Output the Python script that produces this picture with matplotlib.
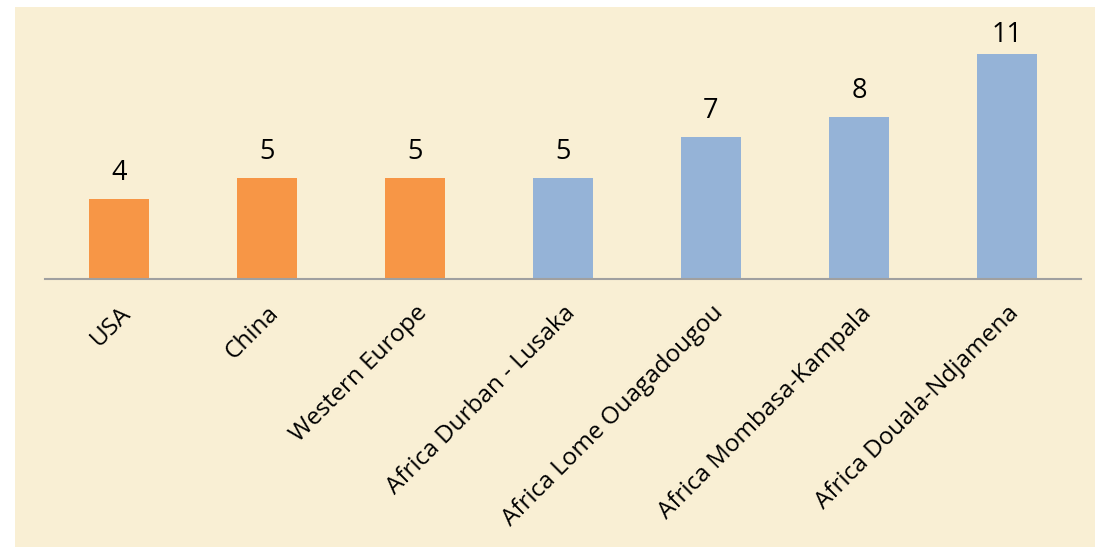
import matplotlib
matplotlib.use("Agg")
import matplotlib.pyplot as plt
from matplotlib.patches import Rectangle

categories = ["USA", "China", "Western Europe", "Africa Durban - Lusaka",
              "Africa Lome Ouagadougou", "Africa Mombasa-Kampala", "Africa Douala-Ndjamena"]
values = [3.9, 4.93, 4.93, 4.93, 6.93, 7.9, 11.0]
labels = ["4", "5", "5", "5", "7", "8", "11"]
groups = ["other", "other", "other", "africa", "africa", "africa", "africa"]

colors = {"other": "#F79646", "africa": "#95B3D7"}
bg = "#F9EFD4"

plt.rcParams['font.family'] = ['Open Sans', 'DejaVu Sans']

fig = plt.figure(figsize=(10.95, 5.47), dpi=100)
fig.patch.set_facecolor("white")
fig.patches.append(Rectangle((15/1095, 0), 1 - 15/1095, 1 - 7/547,
                             transform=fig.transFigure, facecolor=bg,
                             edgecolor="none", zorder=-5))

ax = fig.add_axes([45/1095, 1 - 279/547, 1036/1095, (279 - 15)/547])
ax.set_zorder(2)
ax.set_facecolor("none")
x = list(range(len(categories)))
ax.bar(x, values, width=0.4, color=[colors[g] for g in groups], zorder=2)
ax.set_xlim(-0.5, len(categories) - 0.5)
ymax = 264 / 20.5
ax.set_ylim(0, ymax)

# data labels are kept inside the chart area (as the original chart does)
label_cap = ymax - 2.25
for xi, v, lab in zip(x, values, labels):
    ax.annotate(lab, (xi, min(v, label_cap)), xytext=(0, 8.5), textcoords="offset points",
                ha="center", va="bottom", fontsize=19.5, color="black")

for s in ["top", "right", "left"]:
    ax.spines[s].set_visible(False)
ax.spines["bottom"].set_color("#A0A0A0")
ax.spines["bottom"].set_linewidth(1.5)
ax.set_yticks([])
ax.set_xticks(x)
ax.set_xticklabels(categories, rotation=45, ha="right", rotation_mode="anchor",
                   fontsize=17.5)
ax.tick_params(axis="x", length=0, pad=16)

fig.savefig("out.png", dpi=100, facecolor=fig.get_facecolor())
